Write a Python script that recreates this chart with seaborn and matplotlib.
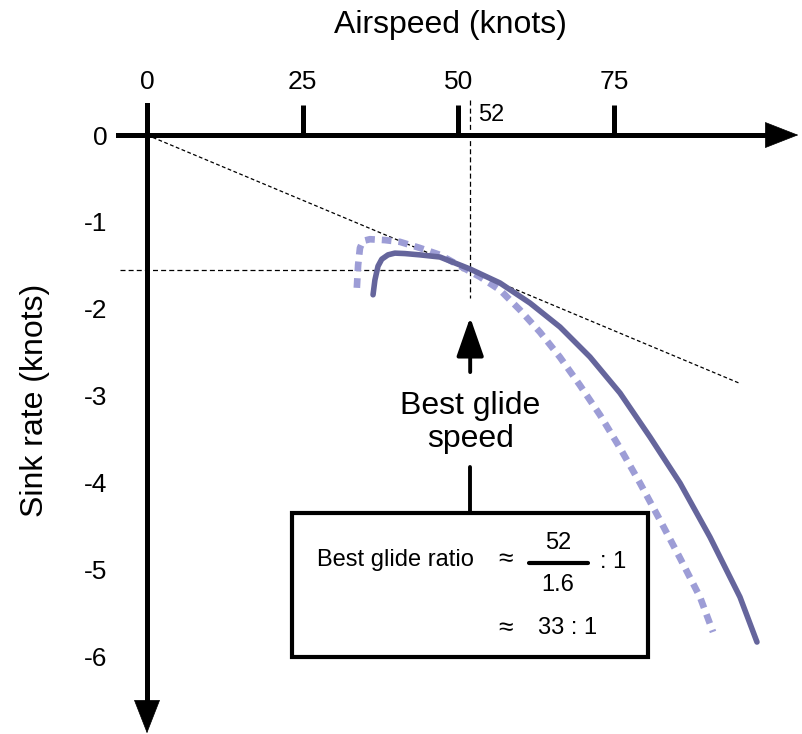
import matplotlib
matplotlib.use("Agg")
import matplotlib.pyplot as plt
from matplotlib.patches import Rectangle
import seaborn as sns

# polar curves (airspeed in knots, sink rate in knots)
solid_speed = [36.3, 36.6, 37.1, 37.7, 38.7, 39.8, 41.4, 43.8, 47.05, 51.87, 56.69,
               61.51, 66.33, 71.14, 75.96, 80.78, 85.60, 90.41, 95.23, 97.96]
solid_sink = [-1.84, -1.67, -1.51, -1.43, -1.38, -1.36, -1.365, -1.38, -1.405, -1.543, -1.704,
              -1.935, -2.211, -2.556, -2.971, -3.478, -4.008, -4.630, -5.321, -5.839]

dashed_speed = [33.7, 33.9, 34.2, 34.7, 35.8, 38.2, 40.6, 43.8, 47.05, 50.3, 53.5, 56.7,
                59.9, 63.1, 66.3, 69.5, 72.75, 75.96, 79.17, 82.38, 85.6, 88.81, 90.9]
dashed_sink = [-1.76, -1.50, -1.30, -1.22, -1.20, -1.21, -1.23, -1.30, -1.38, -1.51, -1.635, -1.785,
               -2.015, -2.269, -2.557, -2.879, -3.224, -3.604, -4.008, -4.434, -4.872, -5.321, -5.723]

tangent_speed = [0, 95.2]
tangent_sink = [0, -2.86]

best_speed = 51.9
best_sink = -1.55

x_ticks = [0, 25, 50, 75]
y_ticks = [0, -1, -2, -3, -4, -5, -6]
y_ticklabels = ["0", "-1", "-2", "-3", "-4", "-5", "-6"]

sns.set_theme(style="white")
plt.rcParams["font.family"] = ["Liberation Sans", "DejaVu Sans"]
plt.rcParams["axes.unicode_minus"] = False
plt.rcParams["text.color"] = "black"

fig = plt.figure(figsize=(8.02, 7.34), dpi=100)
ax = fig.add_axes([0, 0, 1, 1])
ax.set_xlim(-23.61, 105.19)
ax.set_ylim(-6.898, 1.555)
ax.patch.set_alpha(0)

# axes through the origin
for side in ["bottom", "right"]:
    ax.spines[side].set_visible(False)
ax.spines["top"].set_position(("data", 0))
ax.spines["top"].set_bounds(-4.7, 100.5)
ax.spines["left"].set_position(("data", 0))
ax.spines["left"].set_bounds(-6.5, 0.35)
for side in ["top", "left"]:
    ax.spines[side].set_linewidth(3.6)
    ax.spines[side].set_color("black")

ax.xaxis.tick_top()
ax.set_xticks(x_ticks)
ax.set_xticklabels([str(t) for t in x_ticks])
ax.set_yticks(y_ticks)
ax.set_yticklabels(y_ticklabels)
ax.tick_params(axis="both", direction="out", length=21.6, width=3.6,
               color="black", labelsize=19, labelcolor="black")
ax.tick_params(axis="x", pad=8)
ax.tick_params(axis="y", pad=7)
ax.grid(False)

# arrow heads on the axes
head = dict(arrowstyle="-|>,head_length=2.3,head_width=0.9", color="black",
            lw=0.5, mutation_scale=10, shrinkA=0, shrinkB=0)
ax.annotate("", xy=(104.6, 0), xytext=(99.5, 0), arrowprops=head, annotation_clip=False)
ax.annotate("", xy=(0, -6.89), xytext=(0, -6.45), arrowprops=head, annotation_clip=False)

# tangent and reference lines
sns.lineplot(x=tangent_speed, y=tangent_sink, color="black", lw=0.9, estimator=None,
             linestyle=(0, (3, 2)), ax=ax)
sns.lineplot(x=[-4.3, best_speed], y=[best_sink, best_sink], color="black", lw=0.9,
             estimator=None, sort=False, linestyle=(0, (4, 2.5)), ax=ax)
sns.lineplot(x=[best_speed, best_speed], y=[0.4, -1.88], color="black", lw=0.9,
             estimator=None, sort=False, linestyle=(0, (4, 2.5)), ax=ax)

# polar curves
sns.lineplot(x=dashed_speed, y=dashed_sink, color="#9d9dd6", lw=4.8, sort=False,
             estimator=None, linestyle=(0, (1.45, 1.05)), ax=ax)
sns.lineplot(x=solid_speed, y=solid_sink, color="#65659c", lw=4.0, sort=False,
             estimator=None, solid_joinstyle="round", ax=ax)

ax.text(53.2, 0.23, "52", fontsize=17, ha="left", va="center")

# best glide speed pointer
ax.annotate("", xy=(best_speed, -2.10), xytext=(best_speed, -2.73),
            arrowprops=dict(arrowstyle="-|>,head_length=2.0,head_width=0.7", color="black",
                            lw=2.8, mutation_scale=12, shrinkA=0, shrinkB=0))
ax.text(best_speed, -3.31, "Best glide\nspeed", fontsize=23, ha="center", va="center",
        linespacing=1.1)
ax.plot([best_speed, best_speed], [-3.82, -4.35], color="black", lw=2.8)

# ratio box
ax.add_patch(Rectangle((23.3, -6.01), 57.2, 1.66, fill=False, lw=3, edgecolor="black"))
ax.text(27.3, -4.89, "Best glide ratio", fontsize=17, ha="left", va="center")
ax.text(57.5, -4.89, "\u2248", fontsize=19, ha="center", va="center")
ax.plot([61.3, 70.8], [-4.93, -4.93], color="black", lw=3)
ax.text(66.0, -4.70, "52", fontsize=17, ha="center", va="center")
ax.text(66.0, -5.18, "1.6", fontsize=17, ha="center", va="center")
ax.text(74.8, -4.92, ": 1", fontsize=17, ha="center", va="center")
ax.text(57.5, -5.68, "\u2248", fontsize=19, ha="center", va="center")
ax.text(67.6, -5.68, "33 : 1", fontsize=17, ha="center", va="center")

ax.set_xlabel("")
ax.set_ylabel("")
fig.text(450 / 802, 1 - 25 / 734, "Airspeed (knots)", fontsize=23, ha="center", va="center")
fig.text(35 / 802, 1 - 400 / 734, "Sink rate (knots)", fontsize=23, rotation=90,
         ha="center", va="center")

fig.savefig("out.png", dpi=100)
plt.close(fig)
